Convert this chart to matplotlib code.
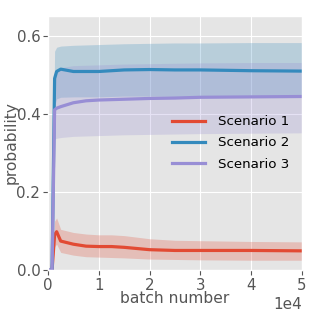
import numpy as np
import matplotlib
matplotlib.use("Agg")
import matplotlib.pyplot as plt

plt.style.use('ggplot')

# batch positions where the curves were sampled
batches = [0, 800, 1300, 1700, 2500, 5000, 7500, 10000, 12500, 15000, 20000, 25000, 30000, 40000, 50000]

# scenario 1
s1_mean = [0, 0, 0.090, 0.098, 0.074, 0.066, 0.061, 0.060, 0.060, 0.058, 0.052, 0.050, 0.050, 0.050, 0.049]
s1_low = [0, 0, 0.060, 0.066, 0.045, 0.038, 0.034, 0.033, 0.032, 0.031, 0.028, 0.027, 0.026, 0.025, 0.025]
s1_high = [0, 0, 0.125, 0.133, 0.104, 0.096, 0.092, 0.090, 0.090, 0.088, 0.080, 0.076, 0.075, 0.073, 0.072]

# scenario 2
s2_mean = [0, 0, 0.490, 0.508, 0.514, 0.508, 0.508, 0.508, 0.510, 0.512, 0.513, 0.512, 0.512, 0.510, 0.509]
s2_low = [0, 0, 0.420, 0.438, 0.442, 0.443, 0.443, 0.443, 0.444, 0.445, 0.445, 0.444, 0.444, 0.443, 0.442]
s2_high = [0, 0, 0.560, 0.570, 0.573, 0.575, 0.576, 0.577, 0.578, 0.579, 0.580, 0.581, 0.581, 0.582, 0.582]

# scenario 3
s3_mean = [0, 0, 0.410, 0.414, 0.418, 0.428, 0.433, 0.435, 0.436, 0.437, 0.439, 0.440, 0.442, 0.443, 0.444]
s3_low = [0, 0, 0.335, 0.337, 0.339, 0.342, 0.343, 0.344, 0.345, 0.346, 0.347, 0.348, 0.349, 0.350, 0.351]
s3_high = [0, 0, 0.500, 0.512, 0.518, 0.523, 0.524, 0.525, 0.526, 0.527, 0.528, 0.529, 0.530, 0.531, 0.531]

labels = ['Scenario 1', 'Scenario 2', 'Scenario 3']
colors = ['#E24A33', '#348ABD', '#988ED5']

fig = plt.figure(figsize=(3.18, 3.18), dpi=100)
ax = fig.add_axes([48 / 318, 48 / 318, 254 / 318, 254 / 318])

series = [(s1_mean, s1_low, s1_high), (s2_mean, s2_low, s2_high), (s3_mean, s3_low, s3_high)]
for (m, lo, hi), lab, c in zip(series, labels, colors):
    ax.fill_between(batches, lo, hi, color=c, alpha=0.25, lw=0)
    ax.plot(batches, m, color=c, lw=2.3, label=lab)

ax.set_xlim(0, 50000)
ax.set_ylim(0, 0.65)
ax.set_yticks([0.0, 0.2, 0.4, 0.6])
ax.set_xticks([0, 10000, 20000, 30000, 40000, 50000])
ax.ticklabel_format(axis='x', style='sci', scilimits=(0, 0))
ax.xaxis.get_offset_text().set_fontsize(11)
ax.tick_params(labelsize=10.8, pad=2)

ax.set_xlabel('batch number', fontsize=11.2)
ax.set_ylabel('probability', fontsize=11.2)
ax.xaxis.set_label_coords(0.5, -0.083)
ax.yaxis.set_label_coords(-0.115, 0.5)

ax.legend(loc='center left', bbox_to_anchor=(0.488, 0.5), frameon=False,
          fontsize=9.6, handlelength=2.45, handletextpad=1.0, labelspacing=0.62,
          borderaxespad=0, borderpad=0)

plt.savefig('out.png', dpi=100)
